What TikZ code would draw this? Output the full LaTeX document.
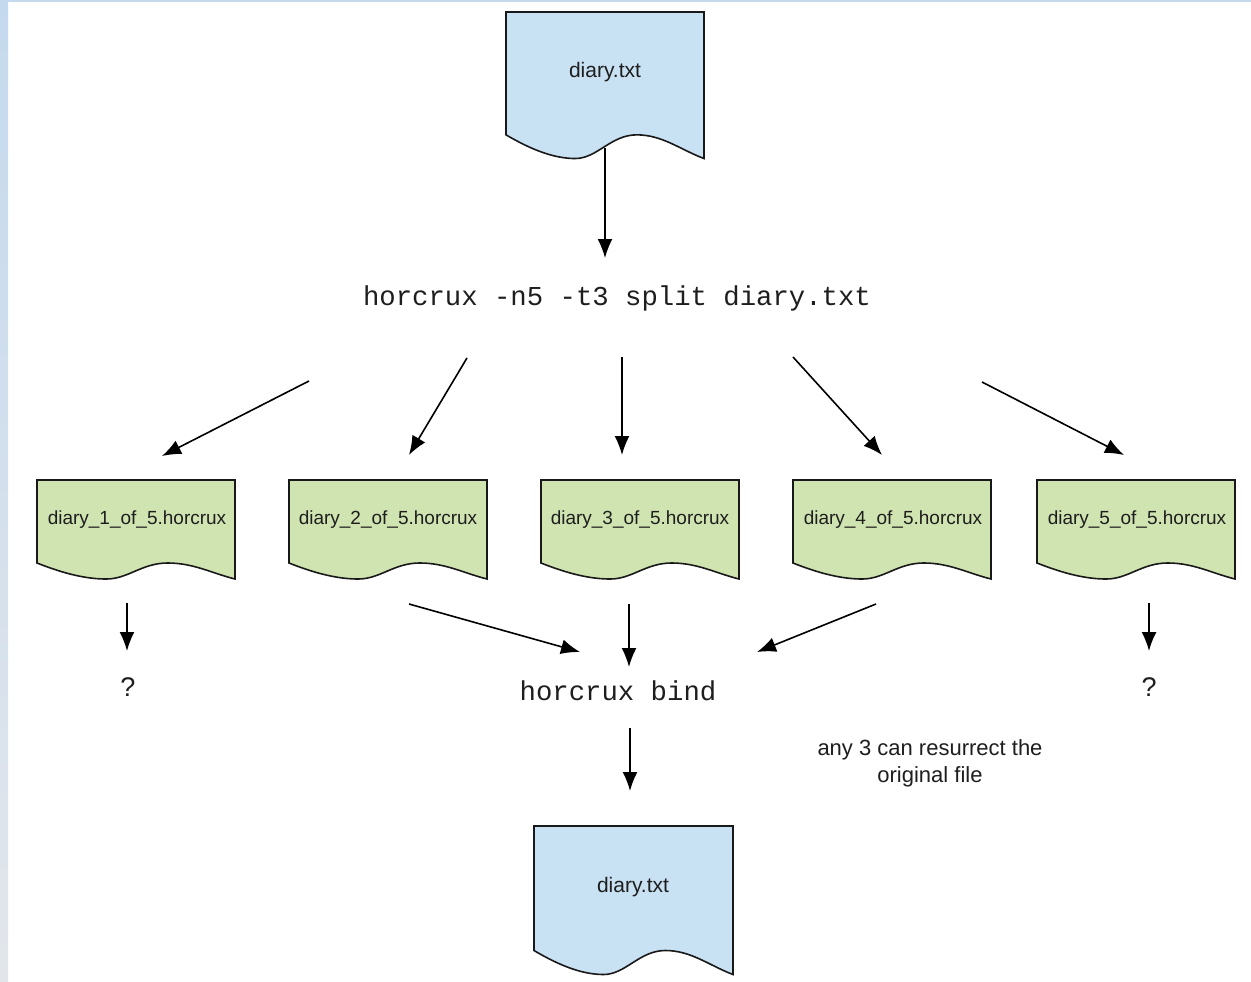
\documentclass[tikz,border=0pt]{standalone}
\usepackage{fontspec}
\setmainfont{Liberation Sans}
\setmonofont{Liberation Mono}
\usetikzlibrary{arrows.meta}
\definecolor{docblue}{HTML}{C8E1F3}
\definecolor{docgreen}{HTML}{D0E4B1}
\definecolor{edgeblue}{HTML}{C5D9EE}
\definecolor{edgegray}{HTML}{E2E6EB}
\definecolor{txt}{HTML}{1E1E1E}
\tikzset{
  docline/.style={draw=black!90, line width=1.6pt, line join=miter},
  conn/.style={line width=1.6pt, -{Latex[length=19pt,width=15pt]}},
  doclabel/.style={font=\fontsize{21}{25}\selectfont, text=txt, inner sep=0pt},
  hlabel/.style={font=\fontsize{19}{23}\selectfont, text=txt, inner sep=0pt},
  cmdlabel/.style={font=\ttfamily\fontsize{27.3}{32}\selectfont, text=txt, inner sep=0pt},
  qlabel/.style={font=\fontsize{27}{32}\selectfont, text=txt, inner sep=0pt},
  notelabel/.style={font=\fontsize{22}{27}\selectfont, text=txt, inner sep=0pt, align=center},
}
% #1 fill, #2 left, #3 top, #4 width, #5 height
\newcommand\docshape[5]{%
  \filldraw[docline, fill=#1] (#2,#3) -- ({#2+#4},#3) -- ({#2+#4},{#3+0.99*#5})
   .. controls ({#2+0.88*#4},{#3+0.93*#5}) and ({#2+0.79*#4},{#3+0.83*#5}) .. ({#2+0.66*#4},{#3+0.83*#5})
   .. controls ({#2+0.53*#4},{#3+0.83*#5}) and ({#2+0.46*#4},{#3+0.99*#5}) .. ({#2+0.35*#4},{#3+0.99*#5})
   .. controls ({#2+0.25*#4},{#3+0.99*#5}) and ({#2+0.14*#4},{#3+0.94*#5}) .. (#2,{#3+0.83*#5}) -- cycle;}
\begin{document}
\begin{tikzpicture}[x=1pt,y=-1pt]
\path[use as bounding box, fill=white] (0,0) rectangle (1251,982);
\shade[top color=edgeblue, bottom color=edgegray] (0,0) rectangle (8,982);
\fill[edgeblue] (0,0) rectangle (1251,2.5);

% documents
\docshape{docblue}{506}{12}{198}{148}
\docshape{docgreen}{37}{480}{198}{100}
\docshape{docgreen}{289}{480}{198}{100}
\docshape{docgreen}{541}{480}{198}{100}
\docshape{docgreen}{793}{480}{198}{100}
\docshape{docgreen}{1037}{480}{198}{100}
\docshape{docblue}{534}{826}{199}{150}

% texts
\node[doclabel] (top) at (605,72) {diary.txt};
\node[cmdlabel] (split) at (617,298) {horcrux -n5 -t3 split diary.txt};
\node[hlabel] (h1) at (137,520) {diary\_1\_of\_5.horcrux};
\node[hlabel] (h2) at (388,520) {diary\_2\_of\_5.horcrux};
\node[hlabel] (h3) at (640,520) {diary\_3\_of\_5.horcrux};
\node[hlabel] (h4) at (893,520) {diary\_4\_of\_5.horcrux};
\node[hlabel] (h5) at (1137,520) {diary\_5\_of\_5.horcrux};
\node[qlabel] (q1) at (128,687) {?};
\node[qlabel] (q5) at (1149,687) {?};
\node[cmdlabel] (bind) at (618,691) {horcrux bind};
\node[notelabel] (note) at (930,763) {any 3 can resurrect the\\original file};
\node[doclabel] (bottom) at (633,887) {diary.txt};

% connector end points
\coordinate (a0s) at (605,148); \coordinate (a0e) at (605,258);
\coordinate (s1s) at (309,381); \coordinate (s1e) at (162,456);
\coordinate (s2s) at (467,358); \coordinate (s2e) at (409,455);
\coordinate (s3s) at (622,357); \coordinate (s3e) at (622,455);
\coordinate (s4s) at (793,357); \coordinate (s4e) at (882,455);
\coordinate (s5s) at (982,382); \coordinate (s5e) at (1124,455);
\coordinate (q1s) at (127,603); \coordinate (q1e) at (127,651);
\coordinate (q5s) at (1149,603); \coordinate (q5e) at (1149,651);
\coordinate (b2s) at (409,604); \coordinate (b2e) at (580,652);
\coordinate (b3s) at (629,604); \coordinate (b3e) at (629,667);
\coordinate (b4s) at (876,604); \coordinate (b4e) at (757,652);
\coordinate (bos) at (630,728); \coordinate (boe) at (630,791);

\draw[conn] (a0s) -- (a0e);
\draw[conn] (s1s) -- (s1e);
\draw[conn] (s2s) -- (s2e);
\draw[conn] (s3s) -- (s3e);
\draw[conn] (s4s) -- (s4e);
\draw[conn] (s5s) -- (s5e);
\draw[conn] (q1s) -- (q1e);
\draw[conn] (q5s) -- (q5e);
\draw[conn] (b2s) -- (b2e);
\draw[conn] (b3s) -- (b3e);
\draw[conn] (b4s) -- (b4e);
\draw[conn] (bos) -- (boe);
\end{tikzpicture}
\end{document}
